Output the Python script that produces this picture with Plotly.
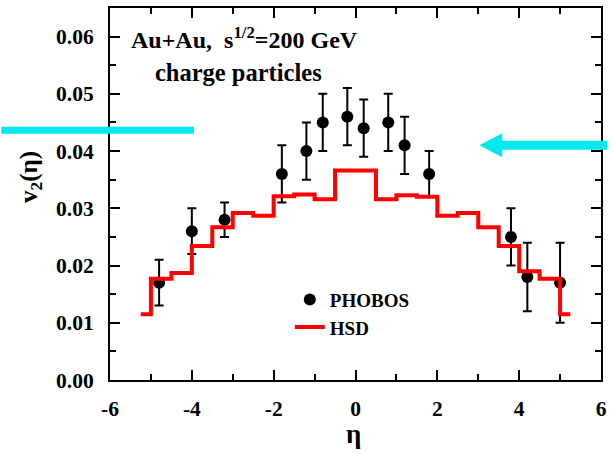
import plotly.graph_objects as go

# PHOBOS data
phobos_eta = [-4.8, -4.0, -3.2, -1.8, -1.2, -0.8, -0.2, 0.2, 0.8, 1.2, 1.8, 3.8, 4.2, 5.0]
phobos_v2 = [0.017, 0.026, 0.028, 0.036, 0.040, 0.045, 0.046, 0.044, 0.045, 0.041, 0.036, 0.025, 0.018, 0.017]
phobos_err_plus = [0.004, 0.004, 0.003, 0.005, 0.005, 0.005, 0.005, 0.005, 0.005, 0.005, 0.004, 0.005, 0.006, 0.007]
phobos_err_minus = [0.004, 0.004, 0.003, 0.005, 0.005, 0.005, 0.005, 0.005, 0.005, 0.005, 0.004, 0.005, 0.006, 0.007]

# HSD step histogram (bin edges and values)
hsd_edges = [-5.25, -5.0, -4.5, -4.0, -3.5, -3.0, -2.5, -2.0, -1.5, -1.0, -0.5, 0.5, 1.0, 1.5, 2.0, 2.5, 3.0, 3.5, 4.0, 4.5, 5.0, 5.25]
hsd_values = [0.0115, 0.0177, 0.0187, 0.0234, 0.0267, 0.0292, 0.0287, 0.0321, 0.0324, 0.0316, 0.0366,
              0.0316, 0.0323, 0.0320, 0.0287, 0.0292, 0.0267, 0.0234, 0.0190, 0.0177, 0.0115]

x_tickvals = [-6, -4, -2, 0, 2, 4, 6]
x_ticktext = ["-6", "-4", "-2", "0", "2", "4", "6"]
y_tickvals = [0.00, 0.01, 0.02, 0.03, 0.04, 0.05, 0.06]
y_ticktext = ["0.00", "0.01", "0.02", "0.03", "0.04", "0.05", "0.06"]

W, H = 613, 454
ML, MR, MT, MB = 110, 6, 6, 74
PW, PH = W - ML - MR, H - MT - MB

def px(x):
    return (x - ML) / PW

def py(y):
    return (H - MB - y) / PH

FONT = "Liberation Serif, Times New Roman, Times, serif"
CYAN = "#00E8F0"
NB = "\u00a0"

fig = go.Figure()

fig.add_trace(go.Scatter(
    x=phobos_eta, y=phobos_v2, mode="markers", name="PHOBOS",
    marker=dict(symbol="circle", size=12, color="black"),
    error_y=dict(type="data", array=phobos_err_plus, arrayminus=phobos_err_minus,
                 color="black", thickness=2, width=4.5),
))

fig.add_trace(go.Scatter(
    x=hsd_edges, y=hsd_values + [hsd_values[-1]], mode="lines", name="HSD",
    line=dict(shape="hv", color="#FF0000", width=4),
))

axis_common = dict(
    showgrid=False, zeroline=False, showline=True, linecolor="black", linewidth=2,
    mirror="ticks", ticks="inside", ticklen=10, tickwidth=2, tickcolor="black",
    tickfont=dict(family=FONT, size=21.5, color="black", weight="bold"),
)

fig.update_xaxes(range=[-6, 6], tickvals=x_tickvals, ticktext=x_ticktext,
                 minor=dict(ticks="inside", ticklen=6, tickwidth=2, dtick=1, tick0=-6, tickcolor="black"),
                 ticklabelstandoff=8, **axis_common)
fig.update_yaxes(range=[0, 0.065], tickvals=y_tickvals, ticktext=y_ticktext,
                 minor=dict(ticks="inside", ticklen=6, tickwidth=2, dtick=0.005, tick0=0, tickcolor="black"),
                 ticklabelstandoff=10, **axis_common)

shapes = [
    dict(type="line", xref="paper", yref="paper", x0=px(0), x1=px(195), y0=py(129), y1=py(129),
         line=dict(color=CYAN, width=7), layer="above"),
    dict(type="path", xref="paper", yref="paper", fillcolor=CYAN, line=dict(width=0), layer="above",
         path=(f"M {px(484)},{py(144)} L {px(507)},{py(132)} L {px(507)},{py(139.5)} "
               f"L {px(613)},{py(139.5)} L {px(613)},{py(148.5)} L {px(507)},{py(148.5)} "
               f"L {px(507)},{py(156)} Z")),
]

annotations = [
    dict(xref="paper", yref="paper", x=px(129), y=py(36), xanchor="left", yanchor="middle",
         text=f"Au+Au,{NB}{NB}s<sup>1/2</sup>=200 GeV", showarrow=False,
         font=dict(family=FONT, size=24, color="black", weight="bold")),
    dict(xref="paper", yref="paper", x=px(154), y=py(71), xanchor="left", yanchor="middle",
         text="charge particles", showarrow=False,
         font=dict(family=FONT, size=24.5, color="black", weight="bold")),
    dict(xref="paper", yref="paper", x=px(29), y=py(176), xanchor="center", yanchor="middle",
         text="v<sub>2</sub>(η)", textangle=-90, showarrow=False,
         font=dict(family=FONT, size=25, color="black", weight="bold")),
    dict(xref="paper", yref="paper", x=px(356), y=py(434), xanchor="center", yanchor="middle",
         text="η", showarrow=False,
         font=dict(family=FONT, size=27, color="black", weight="bold")),
]

fig.update_layout(
    width=W, height=H, margin=dict(l=ML, r=MR, t=MT, b=MB),
    paper_bgcolor="white", plot_bgcolor="white",
    font=dict(family=FONT),
    shapes=shapes, annotations=annotations,
    showlegend=True,
    legend=dict(x=px(292), y=py(280), xanchor="left", yanchor="top",
                bgcolor="rgba(0,0,0,0)", borderwidth=0, tracegroupgap=0,
                font=dict(family=FONT, size=19, color="black", weight="bold")),
)

fig.write_html("out.html")
